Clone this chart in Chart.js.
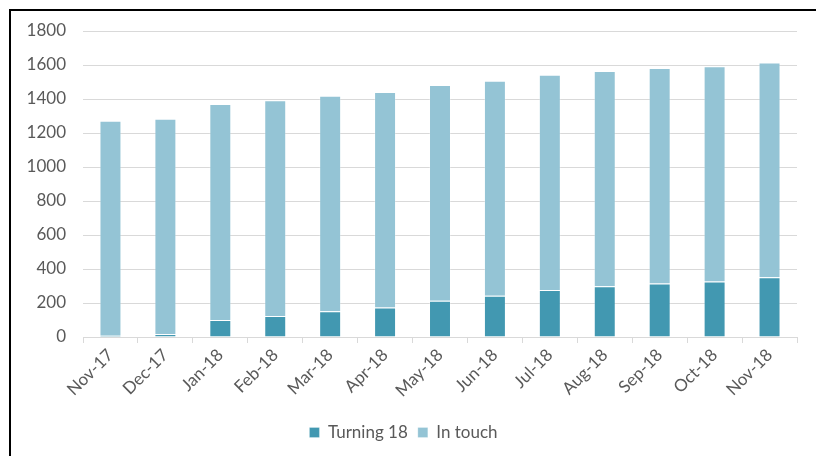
<!DOCTYPE html>
<html>
<head>
<meta charset="utf-8">
<script src="https://cdn.jsdelivr.net/npm/chart.js@4"></script>
<style>
  html, body { margin: 0; padding: 0; background: #fff; }
  #wrap { position: relative; width: 816px; height: 456px; overflow: hidden; }
  #frame {
    position: absolute; left: 9px; top: 9px; width: 820px; height: 460px;
    border-left: 2px solid #000; border-top: 2px solid #000;
  }
  canvas { position: absolute; left: 0; top: 0; }
</style>
</head>
<body>
<div id="wrap">
  <div id="frame"></div>
  <canvas id="chart" width="816" height="456"></canvas>
</div>
<script>
const months = ['Nov-17', 'Dec-17', 'Jan-18', 'Feb-18', 'Mar-18', 'Apr-18', 'May-18',
  'Jun-18', 'Jul-18', 'Aug-18', 'Sep-18', 'Oct-18', 'Nov-18'];
const turning18 = [8, 18, 100, 124, 151, 174, 213, 243, 276, 298, 315, 327, 351];
const inTouch = [1264, 1266, 1271, 1268, 1268, 1267, 1269, 1265, 1267, 1267, 1267, 1265, 1264];
const yTicks = [0, 200, 400, 600, 800, 1000, 1200, 1400, 1600, 1800];

const textColor = '#595959';
const gridColor = '#d9d9d9';
const font = { family: 'Lato, "Open Sans", sans-serif', size: 17 };

document.addEventListener('DOMContentLoaded', function() {
  const ctx = document.getElementById('chart').getContext('2d');
  new Chart(ctx, {
    type: 'bar',
    data: {
      labels: months,
      datasets: [
        {
          label: 'Turning 18',
          data: turning18,
          backgroundColor: '#4298b1',
          borderColor: 'rgba(255,255,255,0.25)',
          borderWidth: 1,
          barPercentage: 0.4,
          categoryPercentage: 1
        },
        {
          label: 'In touch',
          data: inTouch,
          backgroundColor: '#94c4d5',
          borderColor: 'rgba(255,255,255,0.25)',
          borderWidth: 1,
          barPercentage: 0.4,
          categoryPercentage: 1
        }
      ]
    },
    options: {
      responsive: false,
      animation: false,
      layout: { padding: { left: 10, right: 19, top: 31, bottom: 5 } },
      plugins: {
        tooltip: { enabled: false },
        legend: {
          position: 'bottom',
          labels: {
            color: textColor,
            font: font,
            boxWidth: 10,
            boxHeight: 10,
            padding: 10
          }
        }
      },
      scales: {
        x: {
          stacked: true,
          afterFit: function(scale) {
            scale.height = 77;
          },
          grid: {
            offset: true,
            drawOnChartArea: false,
            drawTicks: true,
            tickLength: 6,
            color: gridColor
          },
          border: { display: true, color: gridColor },
          ticks: {
            color: textColor,
            font: font,
            minRotation: 45,
            maxRotation: 45,
            padding: 2
          }
        },
        y: {
          stacked: true,
          min: 0,
          max: 1800,
          afterBuildTicks: function(scale) {
            scale.ticks = yTicks.map(v => ({ value: v }));
          },
          afterFit: function(scale) {
            scale.width = 73;
          },
          grid: { color: gridColor, drawTicks: false },
          border: { display: false },
          ticks: {
            color: textColor,
            font: font,
            padding: 17,
            callback: function(value) { return String(value); }
          }
        }
      }
    }
  });
});
</script>
</body>
</html>
